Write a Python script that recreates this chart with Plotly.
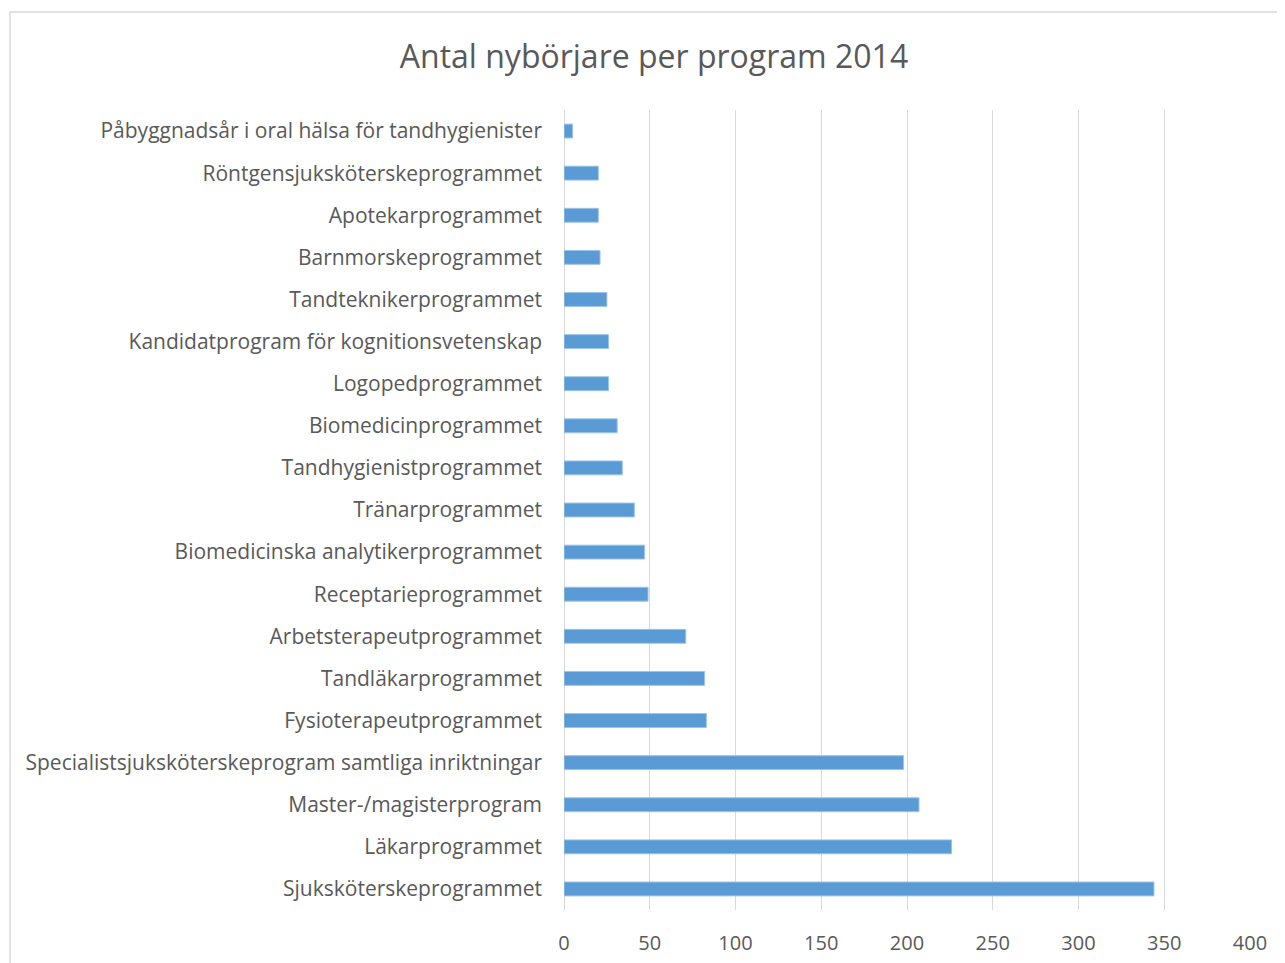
import plotly.graph_objects as go

# programs, top to bottom as shown in the chart
programs = [
    "Påbyggnadsår i oral hälsa för tandhygienister",
    "Röntgensjuksköterskeprogrammet",
    "Apotekarprogrammet",
    "Barnmorskeprogrammet",
    "Tandteknikerprogrammet",
    "Kandidatprogram för kognitionsvetenskap",
    "Logopedprogrammet",
    "Biomedicinprogrammet",
    "Tandhygienistprogrammet",
    "Tränarprogrammet",
    "Biomedicinska analytikerprogrammet",
    "Receptarieprogrammet",
    "Arbetsterapeutprogrammet",
    "Tandläkarprogrammet",
    "Fysioterapeutprogrammet",
    "Specialistsjuksköterskeprogram samtliga inriktningar",
    "Master-/magisterprogram",
    "Läkarprogrammet",
    "Sjuksköterskeprogrammet",
]
nyborjare = [5, 20, 20, 21, 25, 26, 26, 31, 34, 41, 47, 49, 71, 82, 83, 198, 207, 226, 344]

x_ticks = [0, 50, 100, 150, 200, 250, 300, 350, 400]

# page has an 8px body margin, so the figure is a bit smaller than the window
W, H = 1277, 955
ml, mr, mt, mb = 556, 35, 102, 53

fig = go.Figure(go.Bar(
    x=nyborjare,
    y=programs,
    orientation="h",
    marker=dict(color="#5B9BD5", line=dict(color="#9DC3E6", width=1)),
    width=0.33,
))

fig.update_layout(
    width=W, height=H,
    margin=dict(l=ml, r=mr, t=mt, b=mb),
    paper_bgcolor="white",
    plot_bgcolor="white",
    font=dict(family="Open Sans, Noto Sans, sans-serif", color="#595959", size=21),
    title=dict(
        text="Antal nybörjare per program 2014",
        x=646 / W, xanchor="center",
        y=1 - 49 / H, yanchor="middle",
        font=dict(size=32, color="#595959"),
    ),
    showlegend=False,
    bargap=0.67,
)

fig.update_xaxes(
    range=[0, 400],
    tickvals=x_ticks,
    tickfont=dict(size=20),
    showgrid=True, gridcolor="#d9d9d9", gridwidth=1,
    zeroline=True, zerolinecolor="#d9d9d9", zerolinewidth=1,
    showline=False, ticks="",
    ticklabelstandoff=19,
    automargin=False,
)
fig.update_yaxes(
    categoryorder="array",
    categoryarray=programs[::-1],
    showgrid=False, showline=False, ticks="",
    ticklabelstandoff=21,
    automargin=False,
)

# light frame around the chart area, as in the spreadsheet export
pw = W - ml - mr
ph = H - mt - mb
fig.add_shape(
    type="rect", xref="paper", yref="paper",
    x0=(2 - ml) / pw, x1=(W + 5 - ml) / pw,
    y0=(H - mb - (H + 5)) / ph, y1=(H - mb - 4) / ph,
    line=dict(color="#d9d9d9", width=1.5),
    fillcolor="rgba(0,0,0,0)", layer="below",
)

fig.write_html("out.html")
